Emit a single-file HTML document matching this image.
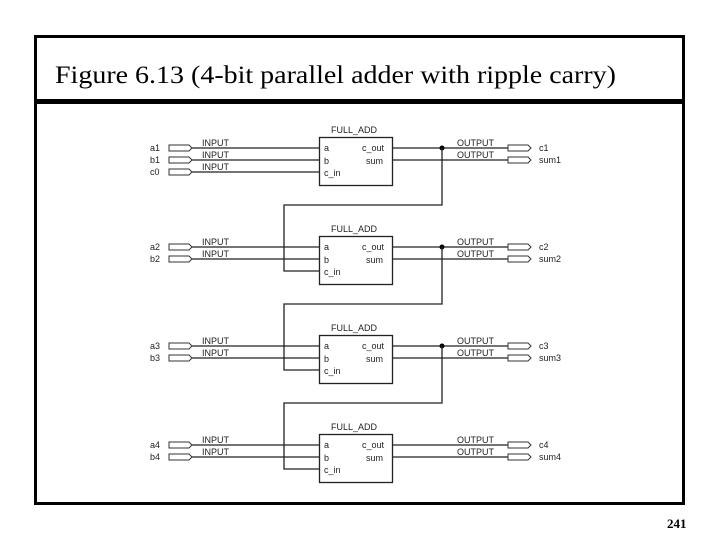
<!DOCTYPE html>
<html><head><style>
body{margin:0;background:#fff;}
svg{display:block;}
.t{font-family:"Liberation Sans",sans-serif;font-size:9px;fill:#222;}
</style></head><body>
<svg width="720" height="540" xmlns="http://www.w3.org/2000/svg">
<rect x="35.5" y="36.5" width="648" height="467" fill="none" stroke="#000" stroke-width="3"/>
<rect x="35" y="99" width="650" height="5" fill="#000"/>
<text x="55" y="83" font-family="Liberation Serif,serif" font-size="25" textLength="561" lengthAdjust="spacingAndGlyphs" fill="#000">Figure 6.13 (4-bit parallel adder with ripple carry)</text>
<text x="667" y="528" font-family="Liberation Serif,serif" font-size="13" font-weight="bold" fill="#000">241</text>
<defs>
<g id="pin"><path d="M0,-3 H20 L23,0 L20,3 H0 Z" fill="#fff" stroke="#333" stroke-width="1"/></g>
<g id="stage">
<rect x="319.5" y="137.5" width="73" height="48" fill="#fff" stroke="#222" stroke-width="1.3"/>
<text class="t" x="331" y="133">FULL_ADD</text>
<text class="t" x="324" y="151">a</text>
<text class="t" x="324" y="164">b</text>
<text class="t" x="324" y="176">c_in</text>
<text class="t" x="362" y="151">c_out</text>
<text class="t" x="366" y="164">sum</text>
<line x1="192" y1="148" x2="319" y2="148" stroke="#222" stroke-width="1.3"/>
<line x1="192" y1="160" x2="319" y2="160" stroke="#222" stroke-width="1.3"/>
<use href="#pin" x="169" y="148"/>
<use href="#pin" x="169" y="160"/>
<text class="t" x="202" y="146">INPUT</text>
<text class="t" x="202" y="158">INPUT</text>
<line x1="392" y1="148" x2="508" y2="148" stroke="#222" stroke-width="1.3"/>
<line x1="392" y1="160" x2="508" y2="160" stroke="#222" stroke-width="1.3"/>
<use href="#pin" x="508" y="148"/>
<use href="#pin" x="508" y="160"/>
<text class="t" x="457" y="146">OUTPUT</text>
<text class="t" x="457" y="158">OUTPUT</text>
</g>
<g id="carry">
<circle cx="442" cy="148" r="2.5" fill="#000"/>
<polyline points="442,148 442,205 284,205 284,271 319,271" fill="none" stroke="#222" stroke-width="1.3"/>
</g>
</defs>
<use href="#stage" y="0"/>
<use href="#stage" y="99"/>
<use href="#stage" y="198"/>
<use href="#stage" y="297"/>
<use href="#carry" y="0"/>
<use href="#carry" y="99"/>
<use href="#carry" y="198"/>
<line x1="192" y1="172" x2="319" y2="172" stroke="#222" stroke-width="1.3"/>
<use href="#pin" x="169" y="172"/>
<text class="t" x="202" y="170">INPUT</text>
<g class="t">
<text x="150" y="151">a1</text><text x="150" y="163">b1</text><text x="150" y="175">c0</text>
<text x="539" y="151">c1</text><text x="539" y="163">sum1</text>
<text x="150" y="250">a2</text><text x="150" y="262">b2</text>
<text x="539" y="250">c2</text><text x="539" y="262">sum2</text>
<text x="150" y="349">a3</text><text x="150" y="361">b3</text>
<text x="539" y="349">c3</text><text x="539" y="361">sum3</text>
<text x="150" y="448">a4</text><text x="150" y="460">b4</text>
<text x="539" y="448">c4</text><text x="539" y="460">sum4</text>
</g>
</svg>
</body></html>
